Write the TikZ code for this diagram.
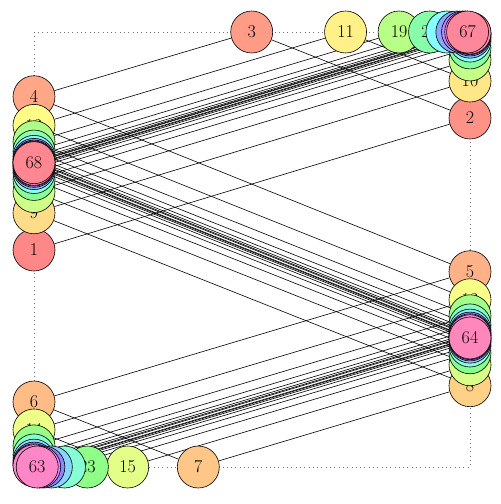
\documentclass[tikz,border=0pt]{standalone}
\usetikzlibrary{backgrounds}
\begin{document}
\begin{tikzpicture}[x=1pt,y=-1pt,
  vtx/.style={circle,draw=black,line width=0.6pt,minimum size=42pt,inner sep=0pt,font=\fontsize{18}{20}\selectfont},
  edge/.style={draw=black,line width=0.6pt},
  frame/.style={draw=black!55,line width=0.8pt,dash pattern=on 0.8pt off 3.5pt}]
\useasboundingbox (0,0) rectangle (501,504);
\foreach \i in {1,...,68}{
  \pgfmathtruncatemacro{\m}{mod(\i,8)}
  \pgfmathtruncatemacro{\k}{(\i-1)/8}
  \pgfmathsetmacro{\f}{0.57^\k}
  \ifcase\m
    \pgfmathsetmacro{\px}{470}\pgfmathsetmacro{\py}{337+48.7*\f}
  \or
    \pgfmathsetmacro{\px}{34}\pgfmathsetmacro{\py}{163.4+86.6*\f}
  \or
    \pgfmathsetmacro{\px}{470}\pgfmathsetmacro{\py}{32+86*\f}
  \or
    \pgfmathsetmacro{\px}{470-218.3*\f}\pgfmathsetmacro{\py}{32}
  \or
    \pgfmathsetmacro{\px}{34}\pgfmathsetmacro{\py}{163.4-66.7*\f}
  \or
    \pgfmathsetmacro{\px}{470}\pgfmathsetmacro{\py}{337-65.3*\f}
  \or
    \pgfmathsetmacro{\px}{34}\pgfmathsetmacro{\py}{467-65*\f}
  \or
    \pgfmathsetmacro{\px}{34+164.3*\f}\pgfmathsetmacro{\py}{467}
  \fi
  \pgfmathsetmacro{\h}{(\i-1)/68*360}
  \convertcolorspec{Hsb}{\h,0.47,1}{rgb}\nodergb
  \definecolor{nc}{rgb}{\nodergb}
  \node[vtx,fill=nc] (n\i) at (\px,\py) {\i};
}
\begin{pgfonlayer}{background}
  \draw[frame] (34,32) rectangle (470,467);
  \foreach \i [evaluate=\i as \j using int(\i+1)] in {1,...,67}{
    \draw[edge] (n\i) -- (n\j);
  }
\end{pgfonlayer}
\end{tikzpicture}
\end{document}
